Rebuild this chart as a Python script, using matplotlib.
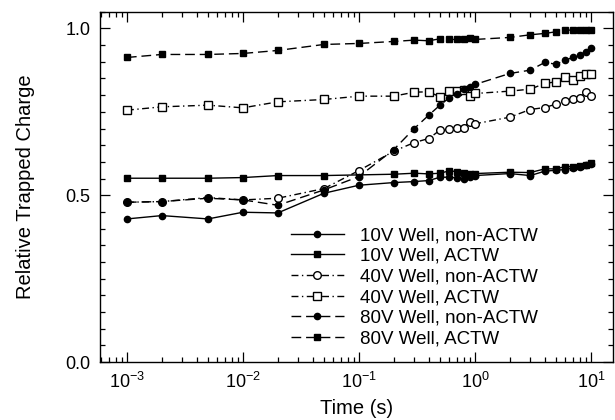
import matplotlib
matplotlib.use("Agg")
import matplotlib.pyplot as plt
from matplotlib.ticker import LogLocator, MultipleLocator, NullFormatter, FixedLocator

plt.rcParams['font.family'] = ['Liberation Sans', 'DejaVu Sans']

time_s = [1e-3, 2e-3, 5e-3, 1e-2, 2e-2, 5e-2, 0.1, 0.2, 0.3, 0.4, 0.5, 0.6, 0.7,
          0.8, 0.9, 1.0, 2, 3, 4, 5, 6, 7, 8, 9, 10]

v10_non = [0.429, 0.439, 0.429, 0.449, 0.447, 0.506, 0.530, 0.538, 0.541, 0.544,
           0.554, 0.554, 0.552, 0.550, 0.556, 0.559, 0.565, 0.559, 0.572, 0.575,
           0.577, 0.582, 0.585, 0.590, 0.594]
v10_actw = [0.551, 0.551, 0.551, 0.553, 0.559, 0.559, 0.561, 0.563, 0.566, 0.564,
            0.566, 0.573, 0.571, 0.566, 0.563, 0.565, 0.569, 0.568, 0.579, 0.579,
            0.586, 0.586, 0.589, 0.592, 0.597]
v40_non = [0.479, 0.481, 0.493, 0.486, 0.491, 0.520, 0.574, 0.632, 0.658, 0.670,
           0.695, 0.698, 0.703, 0.701, 0.721, 0.714, 0.734, 0.757, 0.763, 0.773,
           0.782, 0.787, 0.792, 0.808, 0.798]
v40_actw = [0.755, 0.765, 0.770, 0.762, 0.780, 0.787, 0.797, 0.797, 0.809, 0.810,
            0.795, 0.812, 0.813, 0.815, 0.797, 0.805, 0.812, 0.818, 0.835, 0.840,
            0.853, 0.845, 0.857, 0.863, 0.862]
v80_non = [0.479, 0.481, 0.491, 0.486, 0.470, 0.516, 0.556, 0.637, 0.700, 0.740,
           0.770, 0.792, 0.802, 0.817, 0.823, 0.832, 0.865, 0.875, 0.898, 0.893,
           0.905, 0.913, 0.920, 0.930, 0.942]
v80_actw = [0.913, 0.922, 0.922, 0.925, 0.934, 0.952, 0.955, 0.961, 0.965, 0.963,
            0.969, 0.967, 0.967, 0.967, 0.970, 0.967, 0.973, 0.981, 0.985, 0.990,
            0.995, 0.995, 0.995, 0.995, 0.995]

labels = ["10V Well, non-ACTW", "10V Well, ACTW", "40V Well, non-ACTW",
          "40V Well, ACTW", "80V Well, non-ACTW", "80V Well, ACTW"]

fig = plt.figure(figsize=(6.15, 4.2), dpi=100)
ax = fig.add_axes([0.163, 0.138, 0.834, 0.834])

dashdot = (0, (5, 2.5, 1, 2.5))
dashed = (0, (7, 3.5))
kw = dict(color='black', lw=1.0)
ax.plot(time_s, v10_non, linestyle='-', marker='o', ms=4.5, mfc='black', mec='black', label=labels[0], **kw)
ax.plot(time_s, v10_actw, linestyle='-', marker='s', ms=5, mfc='black', mec='black', label=labels[1], **kw)
ax.plot(time_s, v40_non, linestyle=dashdot, marker='o', ms=5.5, mfc='white', mec='black', mew=1.0, label=labels[2], **kw)
ax.plot(time_s, v40_actw, linestyle=dashdot, marker='s', ms=5.5, mfc='white', mec='black', mew=1.0, label=labels[3], **kw)
ax.plot(time_s, v80_non, linestyle=dashed, marker='o', ms=4.5, mfc='black', mec='black', label=labels[4], **kw)
ax.plot(time_s, v80_actw, linestyle=dashed, marker='s', ms=5, mfc='black', mec='black', label=labels[5], **kw)

ax.set_xscale('log')
ax.set_xlim(10**-3.23, 10**1.192)
ax.set_ylim(0, 1.05)
ax.yaxis.set_major_locator(FixedLocator([0.0, 0.5, 1.0]))
ax.yaxis.set_minor_locator(MultipleLocator(0.05))
ax.xaxis.set_major_locator(LogLocator(base=10, numticks=10))
ax.xaxis.set_minor_locator(LogLocator(base=10, subs=range(2, 10), numticks=20))
ax.xaxis.set_minor_formatter(NullFormatter())

ax.tick_params(which='both', direction='in', top=True, right=True, labelsize=13, width=0.9)
ax.tick_params(which='major', length=7, pad=7)
ax.tick_params(which='minor', length=3.5)
for s in ax.spines.values():
    s.set_linewidth(1.0)

ax.set_xlabel('Time (s)', fontsize=14.5, labelpad=5)
ax.set_ylabel('Relative Trapped Charge', fontsize=14.5, labelpad=22)

leg = ax.legend(loc='lower left', bbox_to_anchor=(0.35, 0.009), frameon=False, fontsize=13.5,
                handlelength=2.8, handletextpad=0.9, labelspacing=0.19, borderaxespad=0.2)

fig.savefig('out.png', dpi=100)
